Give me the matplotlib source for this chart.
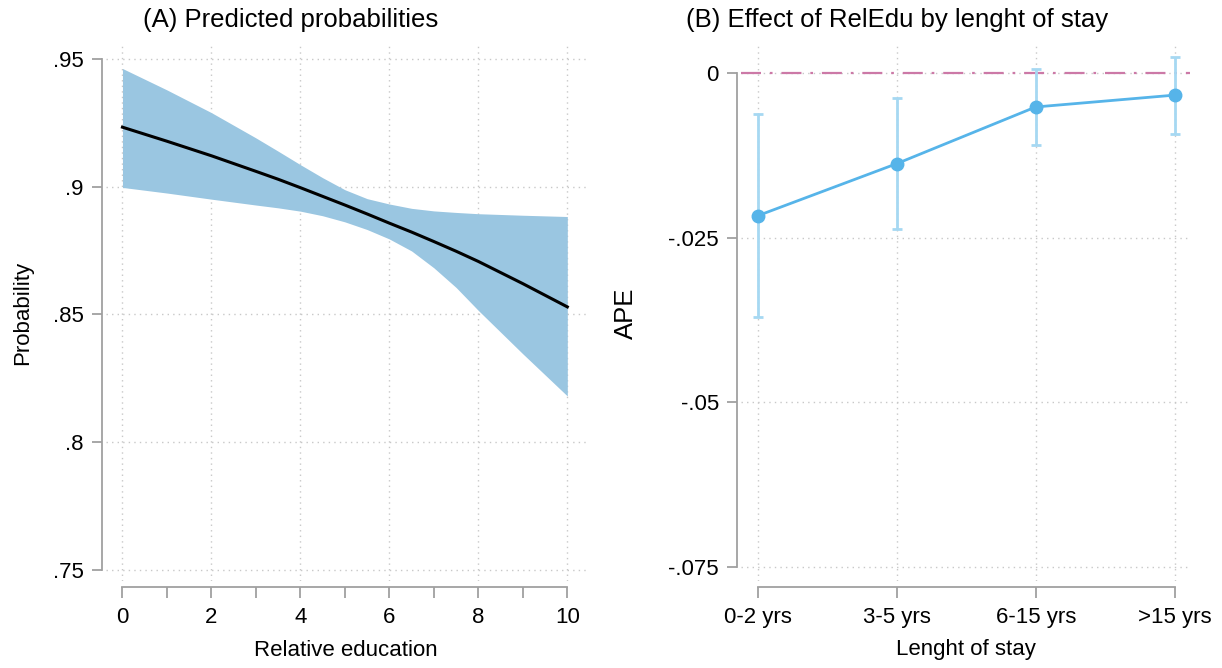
import matplotlib
matplotlib.use("Agg")
import matplotlib.pyplot as plt
import numpy as np

plt.rcParams['font.family'] = ['Liberation Sans', 'DejaVu Sans']

# ---- Panel A data ----
relEdu = [0, 1, 2, 3, 3.5, 4, 4.5, 5, 5.5, 6, 6.5, 7, 7.5, 8, 9, 10]
prob = [0.9233, 0.9178, 0.9121, 0.906, 0.9029, 0.8996, 0.8962, 0.8928, 0.8893, 0.8857,
        0.8822, 0.8785, 0.8747, 0.8707, 0.862, 0.8529]
prob_hi = [0.9463, 0.9379, 0.9290, 0.9191, 0.9139, 0.9086, 0.9035, 0.8988, 0.8953, 0.8932,
           0.8915, 0.8905, 0.8899, 0.8894, 0.8888, 0.8883]
prob_lo = [0.8997, 0.8975, 0.8951, 0.8928, 0.8917, 0.8904, 0.8886, 0.8862, 0.8832, 0.8795,
           0.8748, 0.8682, 0.8605, 0.8515, 0.8345, 0.818]
xticksA = [0, 2, 4, 6, 8, 10]
yticksA = [0.75, 0.80, 0.85, 0.90, 0.95]
yticklabelsA = ['.75', '.8', '.85', '.9', '.95']

# ---- Panel B data ----
stay_cats = ['0-2 yrs', '3-5 yrs', '6-15 yrs', '>15 yrs']
ape = [-0.0217, -0.0138, -0.0052, -0.0034]
ape_hi = [-0.0063, -0.0039, 0.0005, 0.0024]
ape_lo = [-0.0370, -0.0237, -0.0109, -0.0093]
yticksB = [-0.075, -0.05, -0.025, 0]
yticklabelsB = ['-.075', '-.05', '-.025', '0']

W, H = 1222, 668
fig = plt.figure(figsize=(W / 100, H / 100), dpi=100)

band_col = '#9ac6e1'
line_col = '#56b4e9'
err_col = '#a6d8f2'
ref_col = '#cc79a7'
axis_col = '#a0a0a0'
grid_col = '#c8c8c8'

tick_fs = 16
lab_fs = 16
title_fs = 18.5

def px_rect(x0, x1, ytop, ybot):
    return [x0 / W, 1 - ybot / H, (x1 - x0) / W, (ybot - ytop) / H]

def style(ax):
    for s in ['top', 'right']:
        ax.spines[s].set_visible(False)
    for s in ['left', 'bottom']:
        ax.spines[s].set_color(axis_col)
        ax.spines[s].set_linewidth(1.3)
    ax.spines['left'].set_position(('outward', 3))
    ax.spines['bottom'].set_position(('outward', 4))
    ax.tick_params(axis='both', which='both', color=axis_col, width=1.3,
                   labelsize=tick_fs, labelcolor='black')
    ax.tick_params(axis='x', which='both', length=8, pad=7)
    ax.tick_params(axis='y', which='both', length=7, pad=6)
    ax.grid(True, which='major', color=grid_col, linestyle=(0, (1, 3)), linewidth=1.0)
    ax.set_axisbelow(True)

# ---- Panel A ----
ax1 = fig.add_axes(px_rect(106, 586, 45, 581))
ax1.fill_between(relEdu, prob_lo, prob_hi, color=band_col, linewidth=0)
ax1.plot(relEdu, prob, color='black', linewidth=2.2)
ax1.set_xlim(-0.37, 10.42)
ax1.set_ylim(0.7455, 0.9555)
ax1.set_xticks(xticksA)
ax1.set_xticks([1, 3, 5, 7, 9], minor=True)
ax1.set_yticks(yticksA)
ax1.set_yticklabels(yticklabelsA)
style(ax1)
ax1.spines['bottom'].set_bounds(0, 10)
ax1.spines['left'].set_bounds(0.75, 0.95)
ax1.set_xlabel('Relative education', fontsize=lab_fs, labelpad=8)
ax1.set_ylabel('Probability', fontsize=lab_fs, labelpad=14)
fig.text(291 / W, 1 - 20 / H, '(A) Predicted probabilities', fontsize=title_fs,
         ha='center', va='center')

# ---- Panel B ----
xpos = np.arange(len(stay_cats))
ax2 = fig.add_axes(px_rect(741, 1190, 45, 581))
ax2.axhline(0, color=ref_col, linewidth=1.6, linestyle=(0, (9, 4, 1.2, 4)), zorder=1)
yerr = [np.array(ape) - np.array(ape_lo), np.array(ape_hi) - np.array(ape)]
ax2.errorbar(xpos, ape, yerr=yerr, fmt='none', ecolor=err_col, elinewidth=2.0,
             capsize=3.5, capthick=2.0, zorder=2)
ax2.plot(xpos, ape, color=line_col, linewidth=2.0, marker='o', markersize=9,
         markerfacecolor=line_col, markeredgecolor=line_col, zorder=3)
ax2.set_xlim(-0.12, 3.11)
ax2.set_ylim(-0.0771, 0.0042)
ax2.set_xticks(xpos)
ax2.set_xticklabels(stay_cats)
ax2.set_yticks(yticksB)
ax2.set_yticklabels(yticklabelsB)
style(ax2)
ax2.spines['bottom'].set_bounds(0, 3)
ax2.spines['left'].set_bounds(-0.075, 0)
ax2.set_xlabel('Lenght of stay', fontsize=lab_fs, labelpad=8)
ax2.set_ylabel('APE', fontsize=title_fs, labelpad=22)
fig.text(897 / W, 1 - 20 / H, '(B) Effect of RelEdu by lenght of stay', fontsize=title_fs,
         ha='center', va='center')

fig.savefig('out.png', dpi=100, facecolor='white')
